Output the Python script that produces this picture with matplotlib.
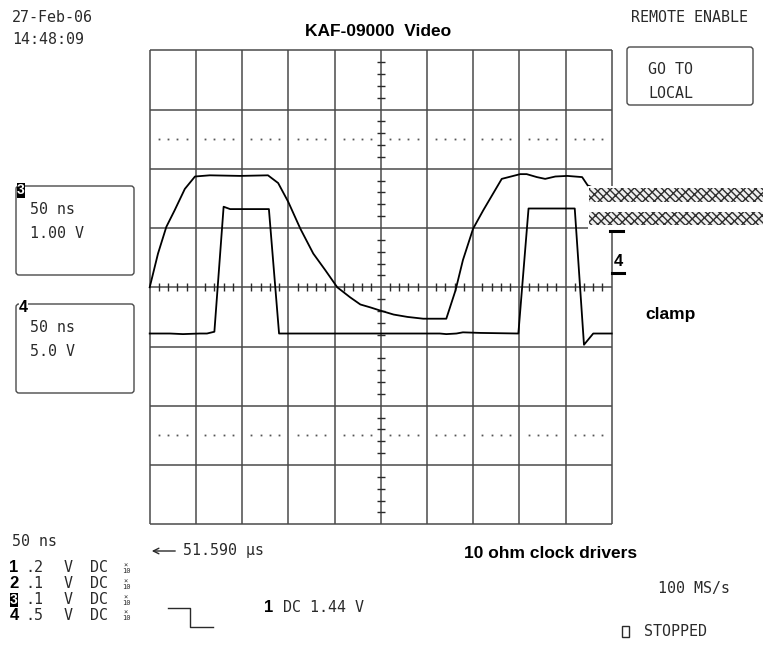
"""
Recreate the LeCroy scope screen capture: KAF-09000 video + clamp clock.
"""
import numpy as np
import matplotlib; matplotlib.use("Agg")
import matplotlib.pyplot as plt
from matplotlib.patches import Rectangle, FancyBboxPatch

# --- trace data (time in ns, 50 ns/div) ---
ch3_t = [0, 9, 18, 27, 38, 49, 65, 98, 128, 139, 150, 163, 177, 190, 203, 217,
         228, 239, 249, 264, 279, 296, 321, 331, 339, 350, 361, 381, 401, 408,
         419, 428, 439, 452, 468, 474, 479]
ch3_v = [0.0, 0.57, 1.02, 1.30, 1.66, 1.87, 1.89, 1.88, 1.89, 1.76, 1.44, 0.99,
         0.57, 0.29, 0.0, -0.17, -0.29, -0.34, -0.39, -0.46, -0.50, -0.53, -0.53,
         -0.05, 0.46, 0.99, 1.30, 1.83, 1.91, 1.91, 1.86, 1.83, 1.87, 1.88, 1.86,
         1.72, 1.69]
ch4_t = [0, 22, 36, 54, 62, 70, 80, 87, 129, 140, 314, 321, 332, 339, 358, 399,
         410, 460, 470, 480, 500]
ch4_v = [-5.1, -5.1, -5.15, -5.1, -5.1, -4.95, 5.6, 5.4, 5.4, -5.1, -5.1, -5.15,
         -5.1, -5.0, -5.05, -5.1, 5.45, 5.45, -6.05, -5.1, -5.1]

# bottom channel settings table
rows_num = ["1", "2", "3", "4"]
rows_val = [".2", ".1", ".1", ".5"]

time_per_div = 50.0
ch3_scale, ch3_offset = 1.0, 0.0     # V/div, divisions
ch4_scale, ch4_offset = 5.0, 0.24

W, H = 763, 654
GRID = "#4a4a4a"
INK = "#2a2a2a"
MONO = ["DejaVu Sans Mono"]
SANS = ["Liberation Sans", "DejaVu Sans"]

fig = plt.figure(figsize=(W / 100, H / 100), dpi=100)
fig.patch.set_facecolor("white")

# scope graticule, in divisions
gl, gr, gt, gb = 149.7, 611.7, 50.3, 524.3
ax = fig.add_axes([gl / W, 1 - gb / H, (gr - gl) / W, (gb - gt) / H])
ax.set_xlim(0, 10)
ax.set_ylim(-4, 4)
ax.axis("off")

ax.vlines(np.arange(0, 11), -4, 4, color=GRID, lw=1.1, clip_on=False)
ax.hlines(np.arange(-4, 5), 0, 10, color=GRID, lw=1.1, clip_on=False)

# dotted lines at +-2.5 div
minor = np.array([x for x in np.arange(0.2, 10, 0.2) if abs(x - round(x)) > 0.05])
for yy in (2.5, -2.5):
    ax.plot(minor, np.full_like(minor, yy), ls="none", marker="s", ms=1.3,
            color="#555555", mec="none")

# center axis minor ticks
ax.vlines(minor, -0.07, 0.07, color=INK, lw=1.0)
ty = np.array([y for y in np.arange(-3.8, 4, 0.2) if abs(y - round(y)) > 0.05])
ax.hlines(ty, 5 - 0.09, 5 + 0.09, color=INK, lw=1.0)

# traces
ax.plot(np.array(ch3_t) / time_per_div, np.array(ch3_v) / ch3_scale + ch3_offset,
        color="black", lw=1.3, clip_on=False)
ax.plot(np.array(ch4_t) / time_per_div, np.array(ch4_v) / ch4_scale + ch4_offset,
        color="black", lw=1.3, clip_on=False)

# overlay in screen pixels for the annotation furniture
ov = fig.add_axes([0, 0, 1, 1])
ov.set_xlim(0, W)
ov.set_ylim(H, 0)
ov.axis("off")
ov.set_zorder(3)
ov.patch.set_alpha(0)


def mono(x, y, s, **kw):
    kw.setdefault("fontsize", 10.8)
    kw.setdefault("color", INK)
    ov.text(x, y, s, family=MONO, va="center", ha=kw.pop("ha", "left"), **kw)


# garbled capture region on the right
ov.add_patch(Rectangle((588, 186), W - 588, 45, facecolor="white", edgecolor="none", zorder=1))
for y0, h in ((188, 14), (212, 13)):
    ov.add_patch(Rectangle((589, y0), W - 589, h, facecolor="#efefef", edgecolor="#2f2f2f",
                           hatch="xxx\\\\", lw=0, zorder=2))

# right-hand channel 4 marker
ov.plot([610, 623], [231, 231], color="black", lw=2.2)
ov.plot([612, 624], [273, 273], color="black", lw=2.2)
ov.text(618, 261, "4", family=SANS, fontsize=12, fontweight="bold", ha="center", va="center")

# header
mono(12, 17, "27-Feb-06")
mono(12, 39, "14:48:09")
mono(631, 17, "REMOTE ENABLE")
ov.text(378, 32, "KAF-09000  Video", family=SANS, fontsize=12.5, fontweight="bold",
        ha="center", va="center")
ov.add_patch(FancyBboxPatch((627, 47), 126, 58, boxstyle="round,pad=0,rounding_size=3",
                            fc="none", ec=GRID, lw=1))
mono(648, 69, "GO TO")
mono(648, 93, "LOCAL")

# channel boxes on the left
for (y0, lines) in ((186, ("50 ns", "1.00 V")), (304, ("50 ns", "5.0 V"))):
    ov.add_patch(FancyBboxPatch((16, y0), 118, 89, boxstyle="round,pad=0,rounding_size=3",
                                fc="none", ec=GRID, lw=1))
    mono(30, y0 + 23, lines[0])
    mono(30, y0 + 47, lines[1])
ov.add_patch(Rectangle((17, 183), 7.5, 15, fc="black", ec="none"))
ov.text(20.8, 190.5, "3", family=SANS, fontsize=10, fontweight="bold", color="white",
        ha="center", va="center")
ov.text(23.5, 307, "4", family=SANS, fontsize=11.5, fontweight="bold", ha="center", va="center",
        bbox=dict(fc="white", ec="none", pad=0.2))

ov.text(645, 315, "clamp", family=SANS, fontsize=12.5, fontweight="bold", va="center")

# bottom status block
mono(12, 542, "50 ns")
ov.annotate("", xy=(149, 551), xytext=(178, 551),
            arrowprops=dict(arrowstyle="->", color=INK, lw=1))
mono(183, 551, "51.590 µs")

rows_y = [568, 584, 600, 615]
for yy, n, v in zip(rows_y, rows_num, rows_val):
    if n == "3":
        ov.add_patch(Rectangle((10, yy - 7), 8, 14, fc="black", ec="none"))
        ov.text(14, yy, n, family=SANS, fontsize=10, fontweight="bold", color="white",
                ha="center", va="center")
    else:
        ov.text(14, yy, n, family=SANS, fontsize=12, fontweight="bold", ha="center", va="center")
    mono(25, yy, v)
    mono(64, yy, "V")
    mono(90, yy, "DC")
    ov.text(126, yy + 0.5, "×\n10", family=MONO, fontsize=5, color=INK, ha="center",
            va="center", linespacing=0.85)

# trigger slope icon
ov.plot([168, 190, 190, 213], [608, 608, 627, 627], color=INK, lw=1)
ov.text(269, 608, "1", family=SANS, fontsize=12, fontweight="bold", ha="center", va="center")
mono(283, 608, "DC 1.44 V")

ov.text(551, 553, "10 ohm clock drivers", family=SANS, fontsize=12.5, fontweight="bold",
        ha="center", va="center")
mono(658, 588, "100 MS/s")
ov.add_patch(Rectangle((622, 626), 7, 11, fc="none", ec=INK, lw=1))
mono(644, 632, "STOPPED")

fig.savefig("out.png", dpi=100, facecolor="white")
